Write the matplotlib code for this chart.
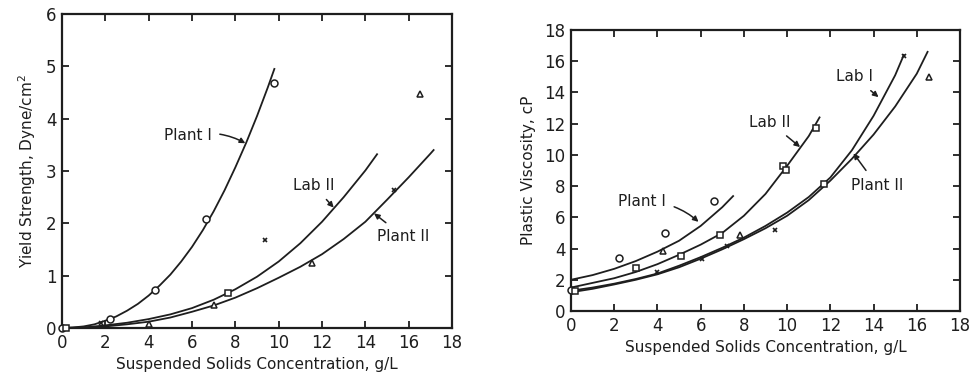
import matplotlib
matplotlib.use("Agg")
from matplotlib import pyplot as plt

# ---- left panel: yield strength ----
ys_plant1_x = [0, 0.5, 1, 1.5, 2, 2.5, 3, 3.5, 4, 4.5, 5, 5.5, 6, 6.5, 7, 7.5, 8, 8.5, 9, 9.5, 9.8]
ys_plant1_y = [0, 0.01, 0.03, 0.07, 0.14, 0.22, 0.33, 0.46, 0.62, 0.81, 1.02, 1.27, 1.55,
               1.87, 2.23, 2.63, 3.07, 3.54, 4.05, 4.6, 4.95]
ys_lab2_x = [0, 1, 2, 3, 4, 5, 6, 7, 8, 9, 10, 11, 12, 13, 14, 14.54]
ys_lab2_y = [0, 0.01, 0.05, 0.1, 0.17, 0.26, 0.38, 0.54, 0.74, 0.98, 1.27, 1.62, 2.03, 2.5, 3.01, 3.32]
ys_plant2_x = [0, 1, 2, 3, 4, 5, 6, 7, 8, 9, 10, 11, 12, 13, 14, 15, 16, 17, 17.15]
ys_plant2_y = [0, 0.005, 0.03, 0.07, 0.12, 0.2, 0.31, 0.43, 0.58, 0.76, 0.96, 1.17, 1.41, 1.7, 2.03, 2.45, 2.88, 3.33, 3.4]

ys_pts_plant1 = ([0, 2.2, 4.3, 6.65, 9.8], [0, 0.17, 0.72, 2.09, 4.68])
ys_pts_lab2 = ([0.2, 7.66], [0.0, 0.66])
ys_pts_plant2 = ([4.0, 7.0, 11.54, 16.5], [0.08, 0.43, 1.25, 4.47])
ys_pts_lab1 = ([1.8, 9.35, 15.3], [0.1, 1.69, 2.63])

# ---- right panel: plastic viscosity ----
pv_plant1_x = [0, 1, 2, 3, 4, 5, 6, 7, 7.5]
pv_plant1_y = [2.0, 2.3, 2.7, 3.2, 3.8, 4.5, 5.45, 6.65, 7.36]
pv_lab2_x = [0, 1, 2, 3, 4, 5, 6, 7, 8, 9, 10, 11, 11.5]
pv_lab2_y = [1.5, 1.8, 2.1, 2.5, 3.0, 3.6, 4.25, 5.0, 6.1, 7.5, 9.3, 11.2, 12.4]
pv_lab1_x = [0, 1, 2, 3, 4, 5, 6, 7, 8, 9, 10, 11, 12, 13, 14, 15, 15.4]
pv_lab1_y = [1.3, 1.5, 1.75, 2.05, 2.4, 2.9, 3.45, 4.05, 4.7, 5.45, 6.3, 7.3, 8.55, 10.3, 12.5, 15.1, 16.4]
pv_plant2_x = [0, 1, 2, 3, 4, 5, 6, 7, 8, 9, 10, 11, 12, 13, 14, 15, 16, 16.5]
pv_plant2_y = [1.2, 1.42, 1.7, 2.0, 2.35, 2.8, 3.35, 3.95, 4.6, 5.3, 6.1, 7.1, 8.35, 9.75, 11.3, 13.1, 15.2, 16.6]

pv_pts_plant1 = ([0, 2.2, 4.35, 6.63], [1.35, 3.4, 4.97, 7.05])
pv_pts_lab2 = ([0.2, 3.0, 5.1, 6.9, 9.8, 9.95, 11.35, 11.7], [1.3, 2.73, 3.52, 4.88, 9.3, 9.05, 11.75, 8.15])
pv_pts_plant2 = ([4.27, 7.8, 16.55], [3.84, 4.86, 15.0])
pv_pts_lab1 = ([4.0, 6.05, 7.2, 9.45, 15.4], [2.5, 3.35, 4.18, 5.2, 16.35])

ink = '#1e1e1e'
fig = plt.figure(figsize=(9.69, 3.82), dpi=100)
ax1 = fig.add_axes([0.064, 0.1414, 0.4025, 0.822])
ax2 = fig.add_axes([0.5893, 0.1859, 0.4014, 0.7356])


def style(ax, ymax, ystep):
    ax.set_xlim(0, 18)
    ax.set_ylim(0, ymax)
    ax.set_xticks(range(0, 19, 2))
    ax.set_yticks(range(0, ymax + 1, ystep))
    ax.tick_params(direction='in', length=5, width=1.3, top=True, right=True,
                   labelsize=12, colors=ink, pad=4)
    for s in ax.spines.values():
        s.set_linewidth(1.6)
        s.set_color(ink)
    ax.set_xlabel('Suspended Solids Concentration, g/L', fontsize=11, color=ink)


def marks(ax, plant1, lab2, plant2, lab1):
    kw = dict(ls='none', mfc='white', mec=ink, mew=1.1, clip_on=False, zorder=3)
    ax.plot(*plant1, marker='o', ms=5, **kw)
    ax.plot(*lab2, marker='s', ms=4.5, **kw)
    ax.plot(*plant2, marker='^', ms=4.5, **kw)
    ax.plot(*lab1, marker='x', ms=3.5, ls='none', color=ink, mew=1.2, zorder=3)


def label(ax, text, xy_text, xy_tip, rad=0.0, ha='center'):
    ax.annotate(text, xy=xy_tip, xytext=xy_text, fontsize=11, color=ink,
                ha=ha, va='center',
                arrowprops=dict(arrowstyle='-|>', color=ink, lw=1.1,
                                mutation_scale=8, shrinkA=4, shrinkB=0,
                                connectionstyle='arc3,rad=%s' % rad))


# left
style(ax1, 6, 1)
for xs, ys in [(ys_plant1_x, ys_plant1_y), (ys_lab2_x, ys_lab2_y), (ys_plant2_x, ys_plant2_y)]:
    ax1.plot(xs, ys, color=ink, lw=1.3)
marks(ax1, ys_pts_plant1, ys_pts_lab2, ys_pts_plant2, ys_pts_lab1)
ax1.set_ylabel('Yield Strength, Dyne/cm$^2$', fontsize=11, color=ink, labelpad=6)
label(ax1, 'Plant I', (6.9, 3.67), (8.46, 3.53), rad=-0.2, ha='right')
label(ax1, 'Lab II', (11.6, 2.73), (12.54, 2.3))
label(ax1, 'Plant II', (15.75, 1.75), (14.4, 2.19))

# right
style(ax2, 18, 2)
for xs, ys in [(pv_plant1_x, pv_plant1_y), (pv_lab2_x, pv_lab2_y),
               (pv_lab1_x, pv_lab1_y), (pv_plant2_x, pv_plant2_y)]:
    ax2.plot(xs, ys, color=ink, lw=1.3)
marks(ax2, pv_pts_plant1, pv_pts_lab2, pv_pts_plant2, pv_pts_lab1)
ax2.set_ylabel('Plastic Viscosity, cP', fontsize=11, color=ink, labelpad=6)
label(ax2, 'Plant I', (4.4, 7.0), (5.9, 5.71), rad=-0.2, ha='right')
label(ax2, 'Lab II', (9.2, 12.1), (10.6, 10.5))
label(ax2, 'Lab I', (13.1, 15.0), (14.23, 13.7))
label(ax2, 'Plant II', (14.15, 8.06), (13.07, 10.1))

fig.savefig('out.png', dpi=100)
